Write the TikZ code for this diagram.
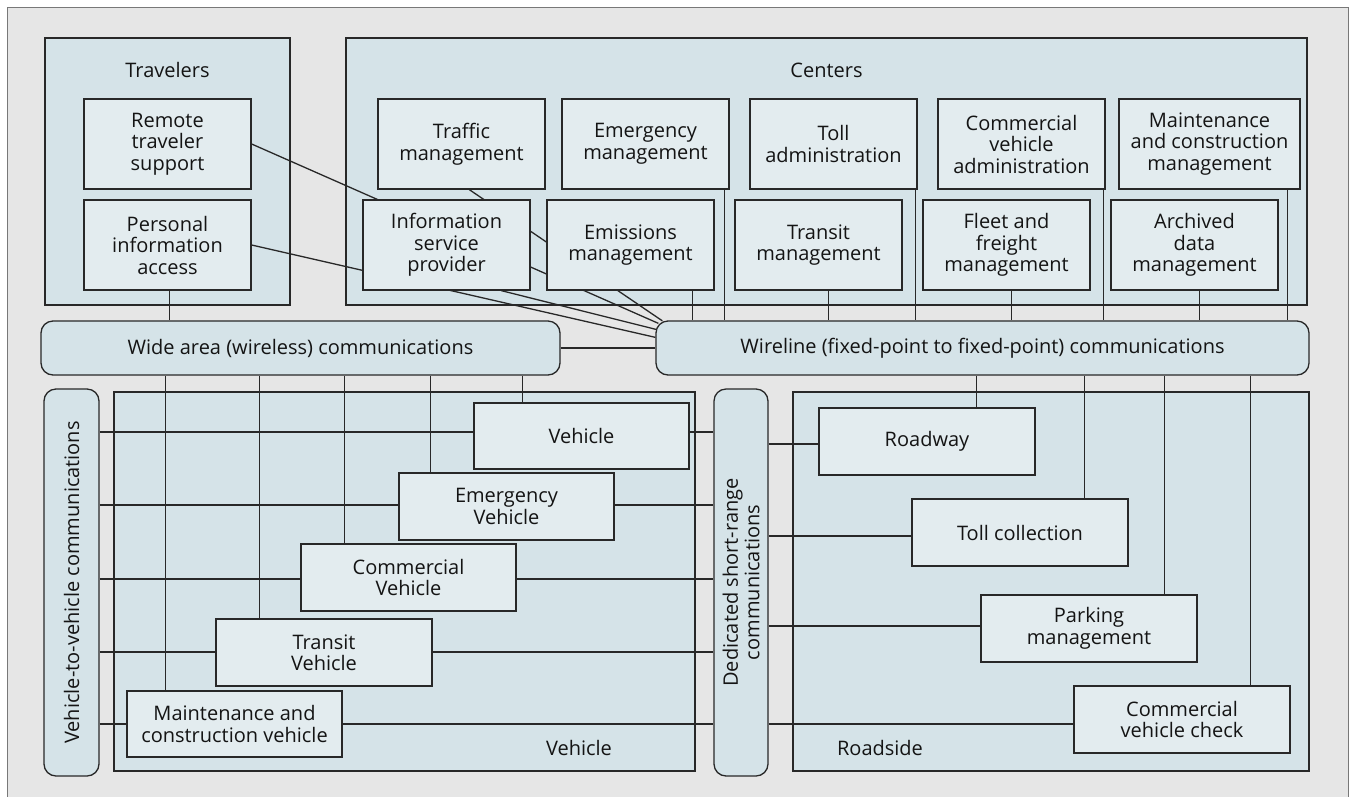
\documentclass[tikz,border=0pt]{standalone}
\usepackage{fontspec}
\setmainfont{Open Sans}
\usetikzlibrary{calc}
\definecolor{framebg}{RGB}{230,230,230}
\definecolor{framedge}{RGB}{120,120,120}
\definecolor{regionbg}{RGB}{213,227,232}
\definecolor{boxbg}{RGB}{227,236,239}
\definecolor{edgec}{RGB}{40,40,40}
\definecolor{textc}{RGB}{20,20,20}
\pgfdeclarelayer{bg}
\pgfdeclarelayer{wires}
\pgfsetlayers{bg,wires,main}
\newcommand\vlink[3]{\draw[conn] let \p1=($(#1)+(#2,0)$), \p2=(#3) in (\x1,\y1) -- (\x1,\y2);}
\newcommand\hlink[4]{\draw[conn] let \p1=(#1), \p2=(#2), \p3=(#3) in (\x1,{\y3-(#4)*1pt}) -- (\x2,{\y3-(#4)*1pt});}
\begin{document}
\begin{tikzpicture}[x=1pt,y=-1pt,
  every node/.style={font=\fontsize{20}{21.5}\selectfont, text=textc},
  region/.style={draw=edgec, fill=regionbg, line width=1.3pt, inner sep=0pt, rectangle},
  unit/.style={draw=edgec, fill=boxbg, line width=1.3pt, inner sep=0pt, align=center, rectangle},
  comm/.style={draw=edgec, fill=regionbg, line width=1.3pt, inner sep=0pt, rounded corners=12pt, align=center, rectangle},
  conn/.style={draw=edgec, line width=1.3pt},
  title/.style={inner sep=0pt}
]
\useasboundingbox (0,0) rectangle (1351,796);
\begin{pgfonlayer}{bg}
  \fill[white] (0,0) rectangle (1351,796);
  \draw[draw=framedge, fill=framebg, line width=1pt] (7,7) rectangle (1348,815);
  \node[region, minimum width=245pt, minimum height=267pt] (trav) at (167.5,171.5) {};
  \node[region, minimum width=961pt, minimum height=267pt] (cent) at (826.5,171.5) {};
  \node[region, minimum width=581pt, minimum height=379pt] (vreg) at (404.5,581.5) {};
  \node[region, minimum width=516pt, minimum height=379pt] (rreg) at (1051,581.5) {};
  \node[title] (travt) at (167.5,70) {Travelers};
  \node[title] (centt) at (826.5,70) {Centers};
  \node[title] (vregt) at (579,748) {Vehicle};
  \node[title] (rregt) at (880,748) {Roadside};
\end{pgfonlayer}

% Travelers
\node[unit, minimum width=167pt, minimum height=90pt] (rts) at (167.5,144) {Remote\\traveler\\support};
\node[unit, minimum width=167pt, minimum height=90pt] (pia) at (167.5,245) {Personal\\information\\access};
% Centers row 1
\node[unit, minimum width=167pt, minimum height=90pt] (traffic) at (461.5,144) {Traffic\\management};
\node[unit, minimum width=167pt, minimum height=90pt] (emerg) at (645.5,144) {Emergency\\management};
\node[unit, minimum width=167pt, minimum height=90pt] (tolladm) at (833.5,144) {Toll\\administration};
\node[unit, minimum width=167pt, minimum height=90pt] (cvadm) at (1021.5,144) {Commercial\\vehicle\\administration};
\node[unit, minimum width=181pt, minimum height=90pt] (mcm) at (1209.5,144) {Maintenance\\and construction\\management};
% Centers row 2
\node[unit, minimum width=167pt, minimum height=90pt] (isp) at (446.5,245) {Information\\service\\provider};
\node[unit, minimum width=167pt, minimum height=90pt] (emis) at (630.5,245) {Emissions\\management};
\node[unit, minimum width=167pt, minimum height=90pt] (transit) at (818.5,245) {Transit\\management};
\node[unit, minimum width=167pt, minimum height=90pt] (fleet) at (1006.5,245) {Fleet and\\freight\\management};
\node[unit, minimum width=167pt, minimum height=90pt] (arch) at (1194.5,245) {Archived\\data\\management};
% Communications
\node[comm, minimum width=519pt, minimum height=54pt] (wa) at (300.5,348) {Wide area (wireless) communications};
\node[comm, minimum width=653pt, minimum height=54pt] (wl) at (982.5,348) {Wireline (fixed-point to fixed-point) communications};
\node[comm, minimum width=55pt, minimum height=387pt] (v2v) at (71.5,582.5) {};
\node[title, rotate=90] (v2vt) at (v2v.center) {Vehicle-to-vehicle communications};
\node[comm, minimum width=54pt, minimum height=387pt] (dsrc) at (741,582.5) {};
\node[title, rotate=90, align=center] (dsrct) at (dsrc.center) {Dedicated short-range\\communications};
% Vehicles
\node[unit, minimum width=215pt, minimum height=66pt] (veh) at (581.5,436) {Vehicle};
\node[unit, minimum width=215pt, minimum height=67pt] (ev) at (506.5,506.5) {Emergency\\Vehicle};
\node[unit, minimum width=215pt, minimum height=67pt] (cv) at (408.5,577.5) {Commercial\\Vehicle};
\node[unit, minimum width=216pt, minimum height=67pt] (tv) at (324,652.5) {Transit\\Vehicle};
\node[unit, minimum width=215pt, minimum height=66pt] (mcv) at (234.5,724) {Maintenance and\\construction vehicle};
% Roadside
\node[unit, minimum width=216pt, minimum height=67pt] (road) at (927,441.5) {Roadway};
\node[unit, minimum width=216pt, minimum height=67pt] (toll) at (1020,532.5) {Toll collection};
\node[unit, minimum width=216pt, minimum height=67pt] (park) at (1089,628.5) {Parking\\management};
\node[unit, minimum width=216pt, minimum height=67pt] (cvc) at (1182,719.5) {Commercial\\vehicle check};

\begin{pgfonlayer}{wires}
  % convergence points on the rounded corner of the wireline box
  \coordinate (e1) at ($(wl.north west)+(0,17)$);
  \coordinate (e2) at ($(wl.north west)+(0.5,9)$);
  \coordinate (e3) at ($(wl.north west)+(3,3)$);
  \coordinate (e4) at ($(wl.north west)+(7,0.5)$);
  \draw[conn] (rts.east) -- (e3);
  \draw[conn] (pia.east) -- (e1);
  \draw[conn] ($(isp.south west)+(139,0)$) -- (e2);
  \draw[conn] ($(traffic.south west)+(92,0)$) -- (e4);
  \vlink{pia.south west}{86}{wa.north}
  \draw[conn] (wa.east) -- (wl.west);
  % centers to wireline
  \vlink{emerg.south east}{-5}{wl.north}
  \vlink{emis.south east}{-22}{wl.north}
  \vlink{transit.south west}{94}{wl.north}
  \vlink{tolladm.south east}{-2}{wl.north}
  \vlink{fleet.south west}{89}{wl.north}
  \vlink{cvadm.south east}{-2}{wl.north}
  \vlink{arch.south west}{89}{wl.north}
  \vlink{mcm.south east}{-13}{wl.north}
  % wide area to vehicles
  \vlink{mcv.north west}{39}{wa.south}
  \vlink{tv.north west}{44}{wa.south}
  \vlink{cv.north west}{44}{wa.south}
  \vlink{ev.north west}{32}{wa.south}
  \vlink{veh.north west}{49}{wa.south}
  % wireline to roadside
  \vlink{road.north west}{158}{wl.south}
  \vlink{toll.north west}{173}{wl.south}
  \vlink{park.north west}{184}{wl.south}
  \vlink{cvc.north west}{177}{wl.south}
  % vehicle-to-vehicle and DSRC links
  \hlink{v2v.east}{dsrc.west}{veh}{-4}
  \hlink{v2v.east}{dsrc.west}{ev}{-1.5}
  \hlink{v2v.east}{dsrc.west}{cv}{1.5}
  \hlink{v2v.east}{dsrc.west}{tv}{-0.5}
  \hlink{v2v.east}{dsrc.west}{mcv}{0}
  \hlink{dsrc.east}{road.west}{road}{2.5}
  \hlink{dsrc.east}{toll.west}{toll}{3.5}
  \hlink{dsrc.east}{park.west}{park}{-2.5}
  \hlink{dsrc.east}{cvc.west}{mcv}{0}
\end{pgfonlayer}
\end{tikzpicture}
\end{document}
